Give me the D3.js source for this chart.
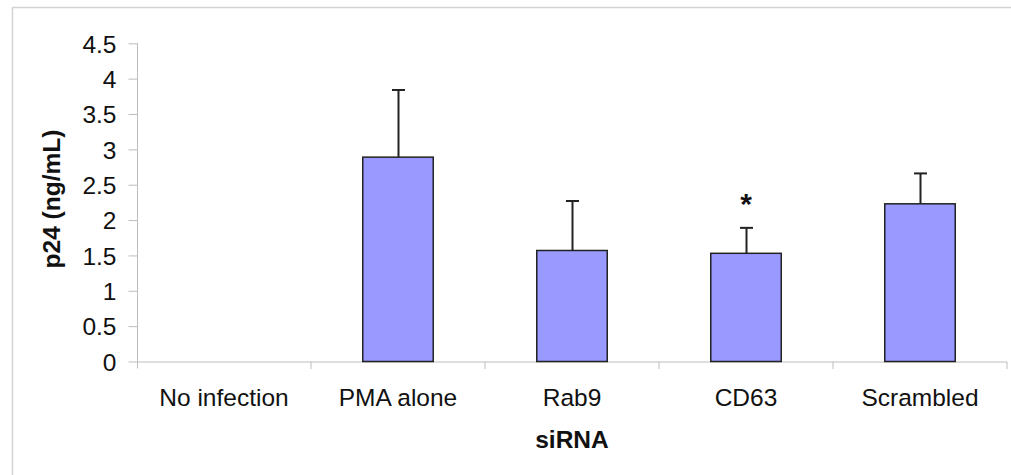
<!DOCTYPE html>
<html>
<head>
<meta charset="utf-8">
<script src="https://cdn.jsdelivr.net/npm/d3@7"></script>
<style>
  body { margin: 0; background: #fff; }
  svg text { font-family: "Liberation Sans", Arial, sans-serif; }
</style>
</head>
<body>
<svg id="chart" width="1011" height="475"></svg>
<script>
// data
var categories = ["No infection", "PMA alone", "Rab9", "CD63", "Scrambled"];
var means = [0, 2.89, 1.57, 1.53, 2.23];
var errors = [0, 0.95, 0.70, 0.36, 0.43];
var marks = ["", "", "", "*", ""];
var yTicks = [0, 0.5, 1, 1.5, 2, 2.5, 3, 3.5, 4, 4.5];

var svg = d3.select("#chart");
var fontSize = 24.5;

// light frame around the whole figure (only left and top visible)
svg.append("path")
  .attr("d", "M12.5,475 L12.5,7.5 L1011,7.5")
  .attr("fill", "none")
  .attr("stroke", "#d4d4d4")
  .attr("stroke-width", 1.5);

var x = d3.scaleBand().domain(categories).range([137, 1007]).paddingInner(0).paddingOuter(0);
var y = d3.scaleLinear().domain([0, 4.5]).range([361.5, 43.3]);
var barW = x.bandwidth() * 0.405;

var axisColor = "#bdbdbd";

// y axis
var yAxis = svg.append("g")
  .attr("transform", "translate(137.5,0)")
  .call(d3.axisLeft(y).tickValues(yTicks).tickSize(9).tickPadding(12).tickFormat(d3.format("")));
yAxis.select(".domain").attr("stroke", axisColor).attr("d", "M0," + y(4.5) + "V" + (y(0) + 7));
yAxis.selectAll(".tick line").attr("stroke", axisColor);
yAxis.selectAll(".tick text")
  .attr("font-size", fontSize).attr("fill", "#111").attr("dy", "0.36em");

// x axis
var xAxis = svg.append("g").attr("transform", "translate(0," + (y(0) + 0.5) + ")");
xAxis.append("line")
  .attr("x1", 137).attr("x2", 1007)
  .attr("stroke", axisColor);
xAxis.selectAll(".sep").data(categories).enter().append("line")
  .attr("class", "sep")
  .attr("x1", function(d) { return x(d) + x.bandwidth(); })
  .attr("x2", function(d) { return x(d) + x.bandwidth(); })
  .attr("y1", 0).attr("y2", 7)
  .attr("stroke", axisColor);
xAxis.selectAll(".lbl").data(categories).enter().append("text")
  .attr("class", "lbl")
  .attr("x", function(d) { return x(d) + x.bandwidth() / 2; })
  .attr("y", 44)
  .attr("text-anchor", "middle")
  .attr("font-size", fontSize)
  .attr("fill", "#111")
  .text(function(d) { return d; });

// error bars (drawn first so the bar covers the lower half)
var eb = svg.append("g");
categories.forEach(function(c, i) {
  if (means[i] === 0) return;
  var cx = Math.round(x(c) + x.bandwidth() / 2) + 0.5;
  eb.append("line")
    .attr("x1", cx).attr("x2", cx)
    .attr("y1", y(means[i])).attr("y2", y(means[i] + errors[i]))
    .attr("stroke", "#222").attr("stroke-width", 2);
  eb.append("line")
    .attr("x1", cx - 6.5).attr("x2", cx + 6.5)
    .attr("y1", y(means[i] + errors[i])).attr("y2", y(means[i] + errors[i]))
    .attr("stroke", "#222").attr("stroke-width", 2);
});

// bars
svg.append("g").selectAll("rect").data(categories).enter().append("rect")
  .attr("x", function(d) { return x(d) + (x.bandwidth() - barW) / 2; })
  .attr("y", function(d, i) { return y(means[i]); })
  .attr("width", barW)
  .attr("height", function(d, i) { return y(0) - y(means[i]); })
  .attr("fill", "#9999ff")
  .attr("stroke", "#222")
  .attr("stroke-width", function(d, i) { return means[i] === 0 ? 0 : 1.5; });

// significance marks
svg.append("g").selectAll("text").data(categories).enter().append("text")
  .attr("x", function(d) { return x(d) + x.bandwidth() / 2; })
  .attr("y", function(d, i) { return y(means[i] + errors[i]) - 14; })
  .attr("text-anchor", "middle")
  .attr("font-size", 30)
  .attr("font-weight", "bold")
  .attr("fill", "#111")
  .text(function(d, i) { return marks[i]; });

// axis titles
svg.append("text")
  .attr("x", 572).attr("y", 448)
  .attr("text-anchor", "middle")
  .attr("font-size", fontSize).attr("font-weight", "bold")
  .attr("fill", "#111")
  .text("siRNA");

svg.append("text")
  .attr("transform", "translate(60,199) rotate(-90)")
  .attr("text-anchor", "middle")
  .attr("font-size", fontSize).attr("font-weight", "bold")
  .attr("fill", "#111")
  .text("p24 (ng/mL)");
</script>
</body>
</html>
